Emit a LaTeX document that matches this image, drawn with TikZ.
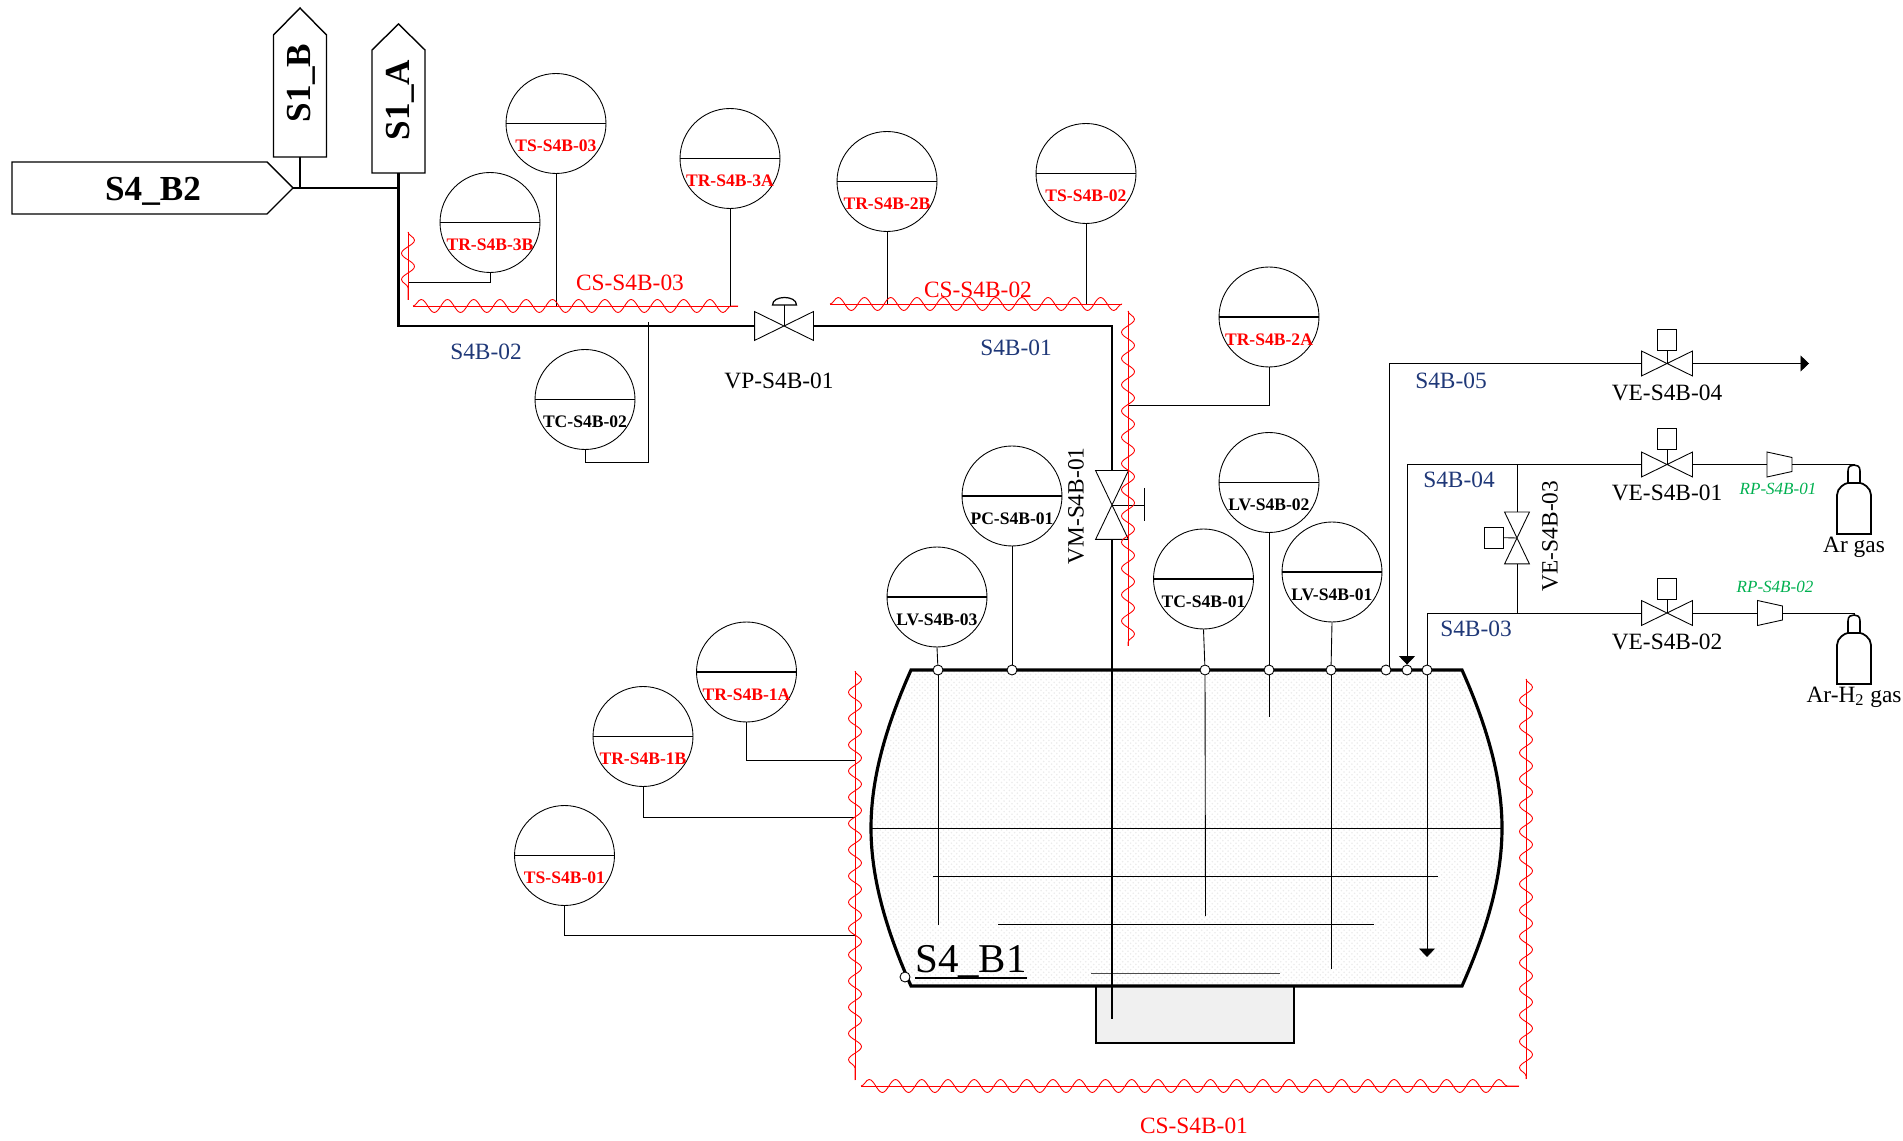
\documentclass[tikz,border=0pt]{standalone}
\usepackage{fontspec}
\setmainfont{Liberation Serif}
\usepackage{tikz}
\usetikzlibrary{arrows.meta}
\usetikzlibrary{decorations.pathmorphing}
\usetikzlibrary{patterns}
\definecolor{pipeblue}{RGB}{31,56,120}
\definecolor{regreen}{RGB}{0,176,80}
\tikzset{
	link/.style={line width=0.5pt},
	pipe/.style={line width=1.3pt},
	hull/.style={line width=1.8pt},
	tip/.style={-{Triangle[length=0.17cm,width=0.32cm]}},
	trace/.style={red,line width=0.5pt,postaction={draw,decorate,decoration={snake,amplitude=0.13cm,segment length=0.525cm}}},
	gauge/.style={circle,draw,link,inner sep=0pt,minimum size=2cm},
	gaugetag/.style={inner sep=0pt,font=\fontsize{10}{11}\selectfont\bfseries},
	nozzle/.style={circle,draw,link,fill=white,inner sep=0pt,minimum size=0.2cm},
	actbox/.style={rectangle,draw,link,fill=white,inner sep=0pt,minimum width=0.39cm,minimum height=0.42cm},
	tagname/.style={inner sep=0pt,font=\fontsize{20}{22}\selectfont\bfseries},
	pipename/.style={inner sep=0pt,text=pipeblue,font=\fontsize{13.3}{15}\selectfont},
	itemname/.style={inner sep=0pt,font=\fontsize{13.3}{15}\selectfont},
	cablename/.style={inner sep=0pt,text=red,font=\fontsize{13.3}{15}\selectfont},
	regname/.style={inner sep=0pt,text=regreen,font=\fontsize{9.7}{11}\selectfont\itshape}
}

\begin{document}
\begin{tikzpicture}[x=0.02cm,y=-0.02cm,link]
			\useasboundingbox (0,0) rectangle (1903,1141);

			% vessel and sump
			\draw[pipe,fill=black!6] (1096,986) rectangle (1294,1043);
			\fill[pattern=crosshatch dots,pattern color=black!8] (911,670) -- (1462,670) .. controls (1491,735) and (1502,785) .. (1502,828) .. controls (1502,871) and (1491,921) .. (1462,986) -- (911,986) .. controls (882,921) and (871,871) .. (871,828) .. controls (871,785) and (882,735) .. (911,670) -- cycle;
			\draw[hull] (911,670) -- (1462,670) .. controls (1491,735) and (1502,785) .. (1502,828) .. controls (1502,871) and (1491,921) .. (1462,986) -- (911,986) .. controls (882,921) and (871,871) .. (871,828) .. controls (871,785) and (882,735) .. (911,670) -- cycle;
			\draw (871,828) -- (1502,828);
			\draw (933,876) -- (1438,876);
			\draw (998,924) -- (1374,924);
			\draw[black!70] (1091,973) -- (1280,973);
			\node[inner sep=0pt,anchor=base,font=\fontsize{23.3}{26}\selectfont] (B1) at (971,972) {S4\_B1};
			\draw[line width=1.2pt] (B1.south west) -- (B1.south east);

			% tag shapes
			\draw[line width=0.8pt,fill=white] (12,162) -- (267,162) -- (293,188) -- (267,214) -- (12,214) -- cycle;
			\draw[line width=0.8pt,fill=white] (273.5,157) -- (273.5,35) -- (300,8) -- (326.5,35) -- (326.5,157) -- cycle;
			\draw[line width=0.8pt,fill=white] (372,173) -- (372,50) -- (398.5,24) -- (425,50) -- (425,173) -- cycle;
			\node[tagname] (B2) at (153,191) {S4\_B2};
			\node[tagname,rotate=90] (SB) at (301.5,83) {S1\_B};
			\node[tagname,rotate=90] (SA) at (400,100) {S1\_A};
			\coordinate (B2tip) at (293,188);
			\coordinate (SBfoot) at (300,157);
			\coordinate (SAfoot) at (398.5,173);

			% gauges
			\foreach \name/\xx/\yy/\tag/\col in {TS3/556/123.5/TS-S4B-03/red,TR3B/490/222.5/TR-S4B-3B/red,TR3A/730/158.5/TR-S4B-3A/red,
				TR2B/887/181.5/TR-S4B-2B/red,TS2/1086/173.5/TS-S4B-02/red,TR2A/1269/317/TR-S4B-2A/red,TC2/585/399.5/TC-S4B-02/black,
				PC1/1012/496/PC-S4B-01/black,LV3/937/597/LV-S4B-03/black,LV2/1269/482.5/LV-S4B-02/black,TC1/1203.5/579/TC-S4B-01/black,
				LV1/1332/572/LV-S4B-01/black,TR1A/746.5/672/TR-S4B-1A/red,TR1B/643/736.5/TR-S4B-1B/red,TS1/564.5/855.5/TS-S4B-01/red}{
				\node[gauge] (\name) at (\xx,\yy) {};
				\draw[line width=0.7pt] (\name.west) -- (\name.east);
				\node[gaugetag,text=\col] (\name-t) at (\xx,\yy+22.5) {\tag};
			}

			% valves
			\foreach \name/\xx/\yy/\w/\h in {VP/784/326/58/28,VE4/1667/363.5/50/24,VE1/1667/464.5/50/24,VE2/1667/613/50/24}{
				\node[inner sep=0pt,minimum width=\w*0.02cm,minimum height=\h*0.02cm] (\name) at (\xx,\yy) {};
				\draw (\name.north west) -- (\name.south east) -- (\name.north east) -- (\name.south west) -- cycle;
			}
			\foreach \name/\xx/\yy/\w/\h in {VM/1112/505/32/68,VE3/1517/538/24/51}{
				\node[inner sep=0pt,minimum width=\w*0.02cm,minimum height=\h*0.02cm] (\name) at (\xx,\yy) {};
				\draw (\name.north west) -- (\name.north east) -- (\name.south west) -- (\name.south east) -- cycle;
			}
			\node[actbox] (A4) at (1667,340) {};
			\node[actbox] (A1) at (1667,439) {};
			\node[actbox] (A2) at (1667,589) {};
			\node[actbox] (A3) at (1494,537.5) {};
			\draw (A4) -- (VE4.center);
			\draw (A1) -- (VE1.center);
			\draw (A2) -- (VE2.center);
			\draw (A3) -- (VE3.center);

			% pneumatic head and hand wheel
			\coordinate (VPhead) at (784,305);
			\draw (VP.center) -- (VPhead);
			\draw[line width=0.7pt] (772.5,305) .. controls (772.5,295) and (796.5,295) .. (796.5,305) -- cycle;
			\coordinate (VMwheel) at (1144,505);
			\draw (VM.center) -- (VMwheel);
			\draw (1144,488) -- (1144,521);

			% nozzles
			\foreach \name/\xx/\yy in {N1/938/670,N2/1012/670,N3/1205/670,N4/1269/670,N5/1331/670,N6/1386/670,N7/1407/670,N8/1427/670,N9/905/977}{
				\node[nozzle] (\name) at (\xx,\yy) {};
			}

			% process pipes
			\coordinate (SAknee) at (398.5,326);
			\coordinate (Sump) at (1112,1019);
			\draw[pipe] (B2tip) -- (398.5,188);
			\draw[pipe] (SBfoot) -- (300,188);
			\draw[pipe] (SAfoot) -- (SAknee) -- (VP.west);
			\draw[pipe] (VP.east) -| (VM.north);
			\draw[pipe] (VM.south) -- (Sump);

			% instrument lines
			\coordinate (N1end) at (938,925);
			\coordinate (N3end) at (1205.5,916);
			\coordinate (N4end) at (1269,717);
			\coordinate (N5end) at (1331,969);
			\coordinate (N8end) at (1427,957);
			\draw (TS3.south) -- (556,306);
			\draw (TR3A.south) -- (730,306);
			\draw (TR2B.south) -- (887,304);
			\draw (TS2.south) -- (1086,304);
			\draw (TR3B.south) |- (408,282);
			\draw (TR2A.south) |- (1128,405);
			\draw (TC2.south) -- (585,462) -- (648.5,462) -- (648.5,322);
			\draw (LV3.south) -- (N1);
			\draw (N1) -- (N1end);
			\draw (PC1.south) -- (N2);
			\draw (TC1.south) -- (N3);
			\draw (N3) -- (N3end);
			\draw (LV2.south) -- (N4);
			\draw (N4) -- (N4end);
			\draw (LV1.south) -- (N5);
			\draw (N5) -- (N5end);
			\draw[tip] (N8) -- (N8end);
			\draw (TR1A.south) |- (855,760);
			\draw (TR1B.south) |- (855,817);
			\draw (TS1.south) |- (855,935);

			% regulators
			\foreach \name/\xx/\yy in {RP1/1779.5/464.5,RP2/1770/613}{
				\node[inner sep=0pt,minimum size=0.5cm] (\name) at (\xx,\yy) {};
				\draw (\xx-12.5,\yy-12.5) -- (\xx+12.5,\yy-7) -- (\xx+12.5,\yy+7) -- (\xx-12.5,\yy+12.5) -- cycle;
			}

			% gas bottles
			\foreach \name/\xx/\yy in {Ar/1854/465,H2/1854/615}{
				\coordinate (\name-top) at (\xx,\yy);
				\draw[line width=0.9pt] (\xx-6,\yy+18) -- (\xx-6,\yy+6) .. controls (\xx-6,\yy+1) and (\xx-3,\yy) .. (\xx,\yy) .. controls (\xx+3,\yy) and (\xx+6,\yy+1) .. (\xx+6,\yy+6) -- (\xx+6,\yy+18);
				\draw[line width=1pt] (\xx-17,\yy+69) -- (\xx-17,\yy+30) .. controls (\xx-17,\yy+23) and (\xx-9,\yy+18) .. (\xx-6,\yy+18) -- (\xx+6,\yy+18) .. controls (\xx+9,\yy+18) and (\xx+17,\yy+23) .. (\xx+17,\yy+30) -- (\xx+17,\yy+69) -- cycle;
			}

			% gas lines
			\coordinate (VE4out) at (1809,363.5);
			\draw (N6.north east) |- (VE4.west);
			\draw[tip] (VE4.east) -- (VE4out);
			\draw[tip] (VE1.west) -| (N7.north);
			\draw (N8.north) |- (VE2.west);
			\draw (VE1.east) -- (RP1.west);
			\draw (VE2.east) -- (RP2.west);
			\draw (RP1.east) -| (Ar-top);
			\draw (RP2.east) -| (H2-top);
			\draw (1517,464.5) -- (VE3.north);
			\draw (VE3.south) -- (1517,613);

			% tracing cables
			\coordinate (W3a) at (408,232);
			\coordinate (W3b) at (408,300);
			\coordinate (W3c) at (413,306);
			\coordinate (W3d) at (738,306);
			\coordinate (W2a) at (830,304);
			\coordinate (W2b) at (1122,304);
			\coordinate (W2c) at (1128,311);
			\coordinate (W2d) at (1128,646);
			\coordinate (W1a) at (855,671);
			\coordinate (W1b) at (855,1080);
			\coordinate (W1c) at (861,1086);
			\coordinate (W1d) at (1519,1086);
			\coordinate (W1e) at (1526,679);
			\coordinate (W1f) at (1526,1079);
			\draw[trace] (W3a) -- (W3b);
			\draw[trace] (W3c) -- (W3d);
			\draw[trace] (W2a) -- (W2b);
			\draw[trace] (W2c) -- (W2d);
			\draw[trace] (W1a) -- (W1b);
			\draw[trace] (W1c) -- (W1d);
			\draw[trace] (W1e) -- (W1f);

			% names
			\node[pipename] (L2) at (486,352) {S4B-02};
			\node[pipename] (L1) at (1016,348) {S4B-01};
			\node[pipename] (L5) at (1451,381) {S4B-05};
			\node[pipename] (L4) at (1459,480) {S4B-04};
			\node[pipename] (L3) at (1476,629) {S4B-03};
			\node[cablename] (C3) at (630,283) {CS-S4B-03};
			\node[cablename] (C2) at (978,290) {CS-S4B-02};
			\node[cablename] (C1) at (1194,1126) {CS-S4B-01};
			\node[itemname] (VPn) at (779,381) {VP-S4B-01};
			\node[itemname,rotate=90] (VMn) at (1076,506) {VM-S4B-01};
			\node[itemname,rotate=90] (VE3n) at (1550,536) {VE-S4B-03};
			\node[itemname] (VE4n) at (1667,393) {VE-S4B-04};
			\node[itemname] (VE1n) at (1667,493) {VE-S4B-01};
			\node[itemname] (VE2n) at (1667,642) {VE-S4B-02};
			\node[regname] (RP1n) at (1778,489) {RP-S4B-01};
			\node[regname] (RP2n) at (1775,587) {RP-S4B-02};
			\node[itemname] (Arn) at (1854,547) {Ar gas};
			\node[itemname] (H2n) at (1854,697) {Ar-H\textsubscript{2} gas};
\end{tikzpicture}
\end{document}
